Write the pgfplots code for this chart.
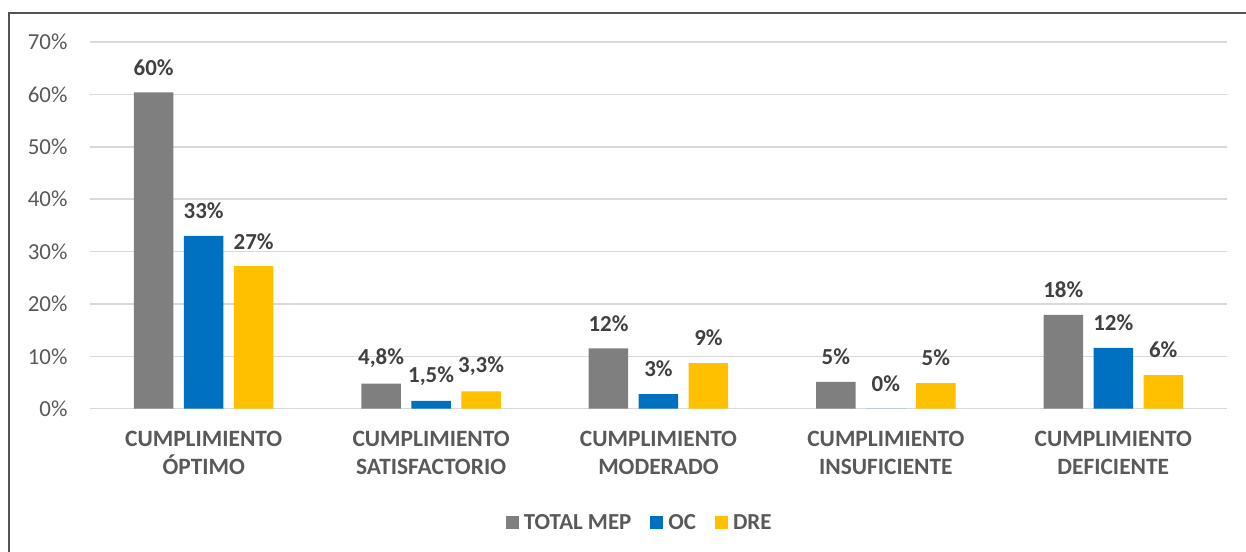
\documentclass[border=0pt]{standalone}
\usepackage{pgfplots}
\usepackage{pgfplotstable}
\pgfplotsset{compat=1.18}
\usepackage{fontspec}
\setmainfont{Carlito}
\definecolor{cgrey}{HTML}{7F7F7F}
\definecolor{cblue}{HTML}{0070C0}
\definecolor{cyellow}{HTML}{FFC000}
\definecolor{ctext}{HTML}{595959}
\definecolor{clabel}{HTML}{404040}
\definecolor{cgrid}{HTML}{D9D9D9}

\pgfplotstableread{
x y lab
0 60.4 60
1 4.8 4,8
2 11.5 12
3 5.1 5
4 17.9 18
}\tot
\pgfplotstableread{
x y lab
0 33.0 33
1 1.5 1,5
2 2.8 3
3 0.0 0
4 11.6 12
}\oc
\pgfplotstableread{
x y lab
0 27.2 27
1 3.3 3,3
2 8.7 9
3 4.9 5
4 6.4 6
}\dre

\begin{document}
\begin{tikzpicture}[x=1bp,y=1bp]
\useasboundingbox (0,0) rectangle (1246,552);
\draw[line width=2.5bp, color=clabel!90] (9,-5) -- (9,539) -- (1260,539);
\begin{axis}[
  at={(90bp,143.3bp)}, anchor=south west,
  scale only axis, width=1137bp, height=366.7bp,
  xmin=-0.5, xmax=4.5, ymin=0, ymax=70,
  ybar=10.5bp, bar width=39.5bp,
  axis line style={draw=none},
  tick style={draw=none},
  ytick={0,10,...,70},
  yticklabel={\pgfmathprintnumber{\tick}\%},
  /pgf/number format/assume math mode=true,
  ymajorgrids, grid style={cgrid, line width=1.6bp},
  yticklabel style={font=\fontsize{23}{28}\selectfont, color=ctext, anchor=east, xshift=-19bp},
  xtick={0,1,2,3,4},
  xticklabels={{CUMPLIMIENTO\\ÓPTIMO},{CUMPLIMIENTO\\SATISFACTORIO},{CUMPLIMIENTO\\MODERADO},{CUMPLIMIENTO\\INSUFICIENTE},{CUMPLIMIENTO\\DEFICIENTE}},
  xticklabel style={font=\bfseries\fontsize{23.5}{28}\selectfont, color=ctext, align=center, anchor=north, yshift=-15bp},
  nodes near coords={\pgfplotspointmeta\%},
  point meta=explicit symbolic,
  every node near coord/.append style={font=\bfseries\fontsize{23}{28}\selectfont, color=clabel, anchor=center, yshift=25bp},
  legend style={at={(0.484,-0.31)}, anchor=center, draw=none, fill=none,
    legend columns=3, font=\bfseries\fontsize{23}{28}\selectfont, text=ctext,
    /tikz/every even column/.append style={column sep=16bp},
    /tikz/every odd column/.append style={column sep=2bp},
    nodes={inner sep=3bp}},
  legend image code/.code={\fill[#1,draw=none] (0bp,-6.5bp) rectangle (13bp,6.5bp);},
]
\addplot[fill=cgrey, draw=none] table[x=x, y=y, meta=lab] {\tot};
\addplot[fill=cblue, draw=none] table[x=x, y=y, meta=lab] {\oc};
\addplot[fill=cyellow, draw=none] table[x=x, y=y, meta=lab] {\dre};
\legend{TOTAL MEP, OC, DRE}
\end{axis}
\end{tikzpicture}
\end{document}
